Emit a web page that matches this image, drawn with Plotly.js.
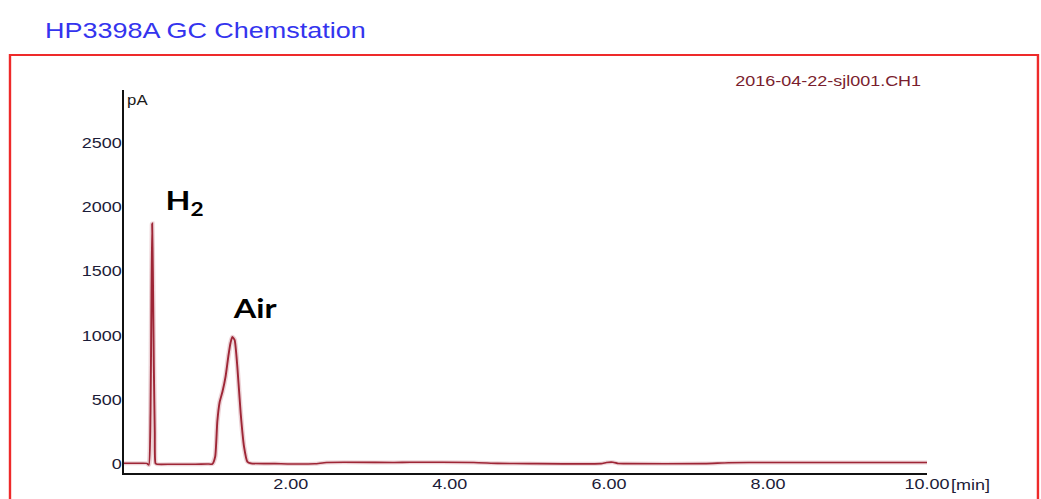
<!DOCTYPE html>
<html>
<head>
<meta charset="utf-8">
<script src="https://cdn.plot.ly/plotly-3.0.1.min.js"></script>
<style>
  html, body { margin: 0; padding: 0; background: #ffffff; overflow: hidden; }
  /* the plot is laid out on a narrower canvas and widened to the page */
  #chart { width: 868px; height: 499px; transform: scaleX(1.19931); transform-origin: 0 0; }
</style>
</head>
<body>
<div id="chart"></div>
<script>
// FID signal, retention time in minutes
const timeMin = [-0.1, 0.1, 0.19, 0.215, 0.236, 0.248, 0.257, 0.266, 0.278, 0.29, 0.299, 0.32,
  0.5, 0.8, 0.95, 1.013, 1.05, 1.076, 1.105, 1.14, 1.18, 1.215, 1.243, 1.265, 1.294, 1.328,
  1.37, 1.412, 1.454, 1.5, 1.8, 2.0, 2.3, 2.45, 3.3, 3.5, 4.3, 4.6, 5.0, 5.9, 5.97, 6.05,
  6.12, 6.2, 7.2, 7.5, 8.0, 10.0];
// detector response, pA
const signalPA = [6, 6, 5, -8, 395, 1300, 1872, 1500, 756, 250, 5, -2,
  -2, -2, 0, 0, 60, 330, 480, 560, 680, 840, 945, 990, 964, 756,
  395, 135, 18, 5, 3, 0, 2, 12, 12, 14, 12, 5, 3, 3, 12, 14,
  4, 3, 3, 10, 12, 12];

const yTicks = [0, 500, 1000, 1500, 2000, 2500];
const xTicks = [2, 4, 6, 8, 10];
const xTickText = ['2.00', '4.00', '6.00', '8.00', '10.00'];

const peakLabels = [
  { text: '<b>H<sub>2</sub></b>', t: 0.40, pa: 2040 },
  { text: '<b>Air</b>', t: 1.24, pa: 1215 }
];

const tickFont = { family: 'Liberation Sans, Arial, sans-serif', size: 15, color: '#1c1c38' };

// soft halo under the trace, then the trace itself
const halo = {
  x: timeMin, y: signalPA, type: 'scatter', mode: 'lines',
  line: { color: 'rgba(200,130,140,0.35)', width: 4, shape: 'spline', smoothing: 0.5 },
  hoverinfo: 'skip'
};
const trace = {
  x: timeMin, y: signalPA, type: 'scatter', mode: 'lines',
  line: { color: '#9e2636', width: 1.6, shape: 'spline', smoothing: 0.5 },
  hoverinfo: 'skip'
};

const annotations = [
  { xref: 'paper', yref: 'paper', x: 0.0018, y: 0.974, xanchor: 'left', yanchor: 'middle',
    text: 'pA', showarrow: false, font: { family: 'Liberation Sans, Arial, sans-serif', size: 14, color: '#1a1a1a' } },
  { xref: 'paper', yref: 'paper', x: 0.995, y: 1.0235, xanchor: 'right', yanchor: 'middle',
    text: '2016-04-22-sjl001.CH1', showarrow: false, font: { family: 'Liberation Sans, Arial, sans-serif', size: 15, color: '#7a1e2e' } },
  { xref: 'paper', yref: 'paper', x: 1.027, y: -0.03, xanchor: 'left', yanchor: 'middle',
    text: '[min]', showarrow: false, font: tickFont }
].concat(peakLabels.map(p => ({
  xref: 'x', yref: 'y', x: p.t, y: p.pa, xanchor: 'left', yanchor: 'middle',
  text: p.text, showarrow: false, font: { family: 'Lato, Open Sans, sans-serif', size: 27, color: '#000000' }
})));

const layout = {
  width: 868,
  height: 499,
  margin: { l: 103, r: 95, t: 90, b: 26, pad: 0 },
  paper_bgcolor: '#ffffff',
  plot_bgcolor: '#ffffff',
  showlegend: false,
  title: {
    text: 'HP3398A GC Chemstation',
    xref: 'container', yref: 'container',
    x: 0.0432, y: 0.94, xanchor: 'left', yanchor: 'middle',
    font: { family: 'Liberation Sans, Arial, sans-serif', size: 22.5, color: '#3434ee' }
  },
  xaxis: {
    range: [-0.103, 10.0],
    showline: true, linecolor: '#111111', linewidth: 2,
    showgrid: false, zeroline: false,
    tickmode: 'array', tickvals: xTicks, ticktext: xTickText,
    ticks: '', ticklabelstandoff: -4, tickfont: tickFont
  },
  yaxis: {
    range: [-70, 2910],
    showline: true, linecolor: '#111111', linewidth: 1.5,
    showgrid: false, zeroline: false,
    tickmode: 'array', tickvals: yTicks,
    ticks: '', ticklabelstandoff: -3, tickfont: tickFont
  },
  shapes: [{
    type: 'rect', xref: 'paper', yref: 'paper',
    x0: -0.1413, x1: 1.138, y0: -0.12, y1: 1.0914,
    line: { color: '#ee2a2a', width: 2 }, fillcolor: 'rgba(0,0,0,0)', layer: 'below'
  }],
  annotations: annotations
};

Plotly.newPlot('chart', [halo, trace], layout, { staticPlot: true, displayModeBar: false });
</script>
</body>
</html>
